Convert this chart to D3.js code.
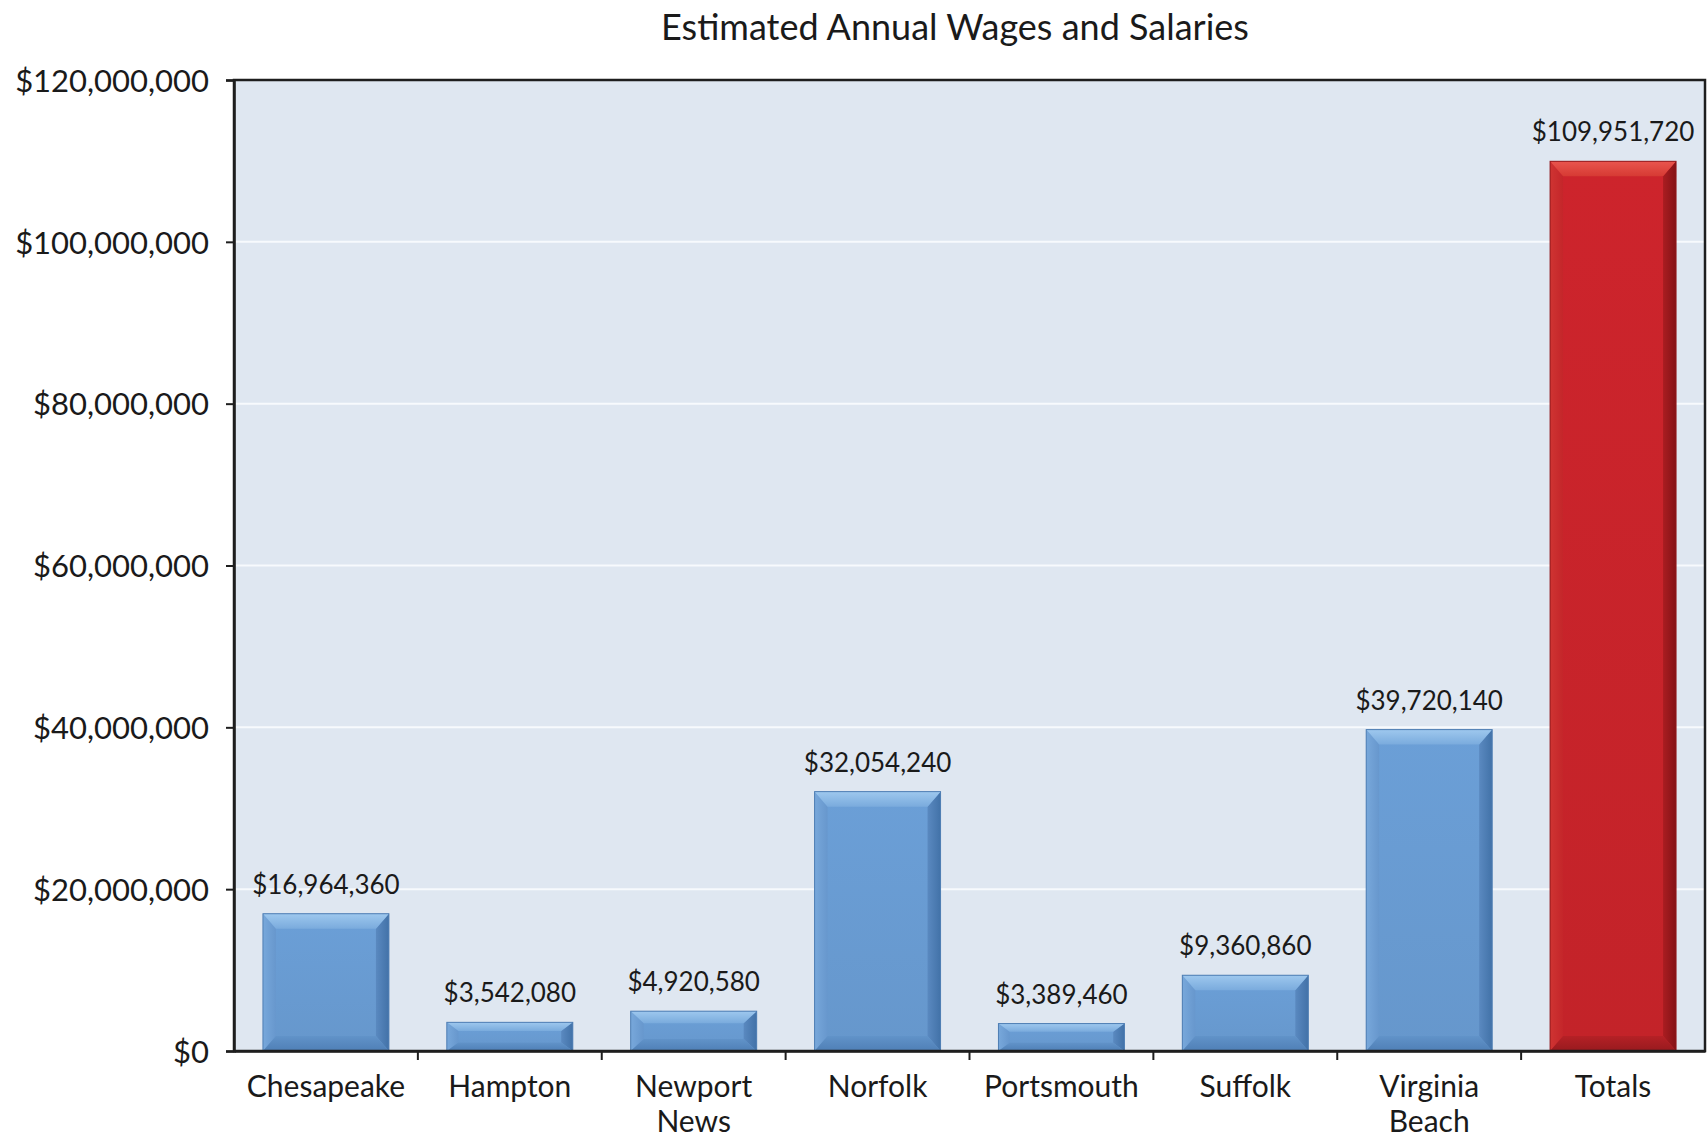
<!DOCTYPE html>
<html>
<head>
<meta charset="utf-8">
<script src="https://cdn.jsdelivr.net/npm/d3@7"></script>
<style>
  html, body { margin: 0; padding: 0; background: #fff; }
  svg { display: block; }
  text { font-family: Lato, "Open Sans", sans-serif; fill: #1a1a1a; }
</style>
</head>
<body>
<svg id="chart" width="1708" height="1139"></svg>
<script>
// Estimated annual wages and salaries by city
const categories = ["Chesapeake", "Hampton", "Newport News", "Norfolk", "Portsmouth", "Suffolk", "Virginia Beach", "Totals"];
const labelLines = [["Chesapeake"], ["Hampton"], ["Newport", "News"], ["Norfolk"], ["Portsmouth"], ["Suffolk"], ["Virginia", "Beach"], ["Totals"]];
const wages = [16964360, 3542080, 4920580, 32054240, 3389460, 9360860, 39720140, 109951720];
const yTicks = [0, 20000000, 40000000, 60000000, 80000000, 100000000, 120000000];
const title = "Estimated Annual Wages and Salaries";

const W = 1708, H = 1139;
const margin = { top: 80, right: 3, bottom: 88, left: 234 };
const iw = W - margin.left - margin.right;
const ih = H - margin.top - margin.bottom;

const svg = d3.select("#chart");
const fmt = d3.format("$,");

const x = d3.scaleBand().domain(categories).range([0, iw]).paddingInner(0.315).paddingOuter(0.1575);
const y = d3.scaleLinear().domain([0, 120000000]).range([ih, 0]);

// gradients for the bevelled bar faces
const defs = svg.append("defs");
const palettes = {
  blue: { face: "#6799cf", top: ["#9ec8ee", "#7aabdd"], left: ["#78a8db", "#6797cd"], right: ["#5a89c0", "#4272a8"], bottom: ["#6193c9", "#4f7fb6"], stroke: "#4f7eb3" },
  red:  { face: "#c6232a", top: ["#e9554e", "#d63a33"], left: ["#cf3432", "#c4262a"], right: ["#aa1d21", "#841216"], bottom: ["#b52126", "#981a1e"], stroke: "#921a1e" }
};
function grad(id, c0, c1, x1, y1, x2, y2) {
  const g = defs.append("linearGradient").attr("id", id)
    .attr("x1", x1).attr("y1", y1).attr("x2", x2).attr("y2", y2);
  g.append("stop").attr("offset", "0%").attr("stop-color", c0);
  g.append("stop").attr("offset", "100%").attr("stop-color", c1);
}
Object.entries(palettes).forEach(([k, p]) => {
  grad(k + "-top", p.top[0], p.top[1], "0", "0", "0", "1");
  grad(k + "-left", p.left[0], p.left[1], "0", "0", "1", "0");
  grad(k + "-right", p.right[0], p.right[1], "0", "0", "1", "0");
  grad(k + "-bottom", p.bottom[0], p.bottom[1], "0", "0", "0", "1");
  grad(k + "-face", d3.color(p.face).brighter(0.1), d3.color(p.face).darker(0.04), "0", "0", "0", "1");
});

svg.append("text")
  .attr("x", 955).attr("y", 40)
  .attr("text-anchor", "middle")
  .attr("font-size", 36)
  .text(title);

const g = svg.append("g").attr("transform", `translate(${margin.left},${margin.top})`);

// plot background
g.append("rect").attr("x", 0).attr("y", 0).attr("width", iw).attr("height", ih).attr("fill", "#dfe7f1");

// gridlines
g.append("g").selectAll("line").data(yTicks.filter(d => d > 0 && d < 120000000)).join("line")
  .attr("x1", 0).attr("x2", iw)
  .attr("y1", d => y(d)).attr("y2", d => y(d))
  .attr("stroke", "#f7fafd").attr("stroke-width", 2);

// bars with bevelled edges
const bars = g.append("g").selectAll("g").data(categories).join("g");
bars.each(function(c, i) {
  const sel = d3.select(this);
  const key = c === "Totals" ? "red" : "blue";
  const p = palettes[key];
  const x0 = x(c), x1 = x0 + x.bandwidth();
  const y0 = y(wages[i]), y1 = y(0);
  const h = y1 - y0;
  const bv = Math.min(15, h * 0.3);
  const bh = Math.min(13, h * 0.3 + 3);
  const pts = a => a.map(q => q.join(",")).join(" ");
  sel.append("rect").attr("x", x0).attr("y", y0).attr("width", x1 - x0).attr("height", h)
    .attr("fill", `url(#${key}-face)`);
  sel.append("polygon").attr("points", pts([[x0, y0], [x0 + bh, y0 + bv], [x0 + bh, y1 - bv], [x0, y1]]))
    .attr("fill", `url(#${key}-left)`);
  sel.append("polygon").attr("points", pts([[x1, y0], [x1 - bh, y0 + bv], [x1 - bh, y1 - bv], [x1, y1]]))
    .attr("fill", `url(#${key}-right)`);
  sel.append("polygon").attr("points", pts([[x0, y1], [x0 + bh, y1 - bv], [x1 - bh, y1 - bv], [x1, y1]]))
    .attr("fill", `url(#${key}-bottom)`);
  sel.append("polygon").attr("points", pts([[x0, y0], [x1, y0], [x1 - bh, y0 + bv], [x0 + bh, y0 + bv]]))
    .attr("fill", `url(#${key}-top)`);
  sel.append("rect").attr("x", x0).attr("y", y0).attr("width", x1 - x0).attr("height", h)
    .attr("fill", "none").attr("stroke", p.stroke).attr("stroke-width", 1);
});

// value labels
g.append("g").selectAll("text").data(categories).join("text")
  .attr("x", c => x(c) + x.bandwidth() / 2)
  .attr("y", (c, i) => y(wages[i]) - 20)
  .attr("text-anchor", "middle")
  .attr("font-size", 26)
  .text((c, i) => fmt(wages[i]));

// frame
g.append("rect").attr("x", 0).attr("y", 0).attr("width", iw).attr("height", ih)
  .attr("fill", "none").attr("stroke", "#1e1e1e").attr("stroke-width", 2.5);

// y axis
const yAxis = g.append("g").call(d3.axisLeft(y).tickValues(yTicks).tickFormat(fmt).tickSize(8).tickPadding(17));
yAxis.select(".domain").attr("stroke", "#1e1e1e").attr("stroke-width", 2.5);
yAxis.selectAll(".tick line").attr("stroke", "#1e1e1e").attr("stroke-width", 2);
yAxis.selectAll(".tick text").attr("font-size", 31).attr("font-family", "Lato, sans-serif").attr("fill", "#1a1a1a").attr("dy", "0.36em");

// x axis: labels centred under bars, ticks between categories
const xAxis = g.append("g").attr("transform", `translate(0,${ih})`)
  .call(d3.axisBottom(x).tickSize(0).tickFormat(""));
xAxis.select(".domain").attr("stroke", "#1e1e1e").attr("stroke-width", 2.5);
const stepOff = x.paddingInner() * x.step() / 2;
xAxis.append("g").selectAll("line").data(categories.slice(1)).join("line")
  .attr("x1", c => x(c) - stepOff).attr("x2", c => x(c) - stepOff)
  .attr("y1", 0).attr("y2", 9)
  .attr("stroke", "#1e1e1e").attr("stroke-width", 2);
const xl = xAxis.append("g").selectAll("text").data(categories).join("text")
  .attr("x", c => x(c) + x.bandwidth() / 2)
  .attr("y", 46)
  .attr("text-anchor", "middle")
  .attr("font-size", 30);
xl.each(function(c, i) {
  const t = d3.select(this);
  labelLines[i].forEach((line, j) => {
    t.append("tspan").attr("x", x(c) + x.bandwidth() / 2).attr("dy", j === 0 ? 0 : 35).text(line);
  });
});
</script>
</body>
</html>
